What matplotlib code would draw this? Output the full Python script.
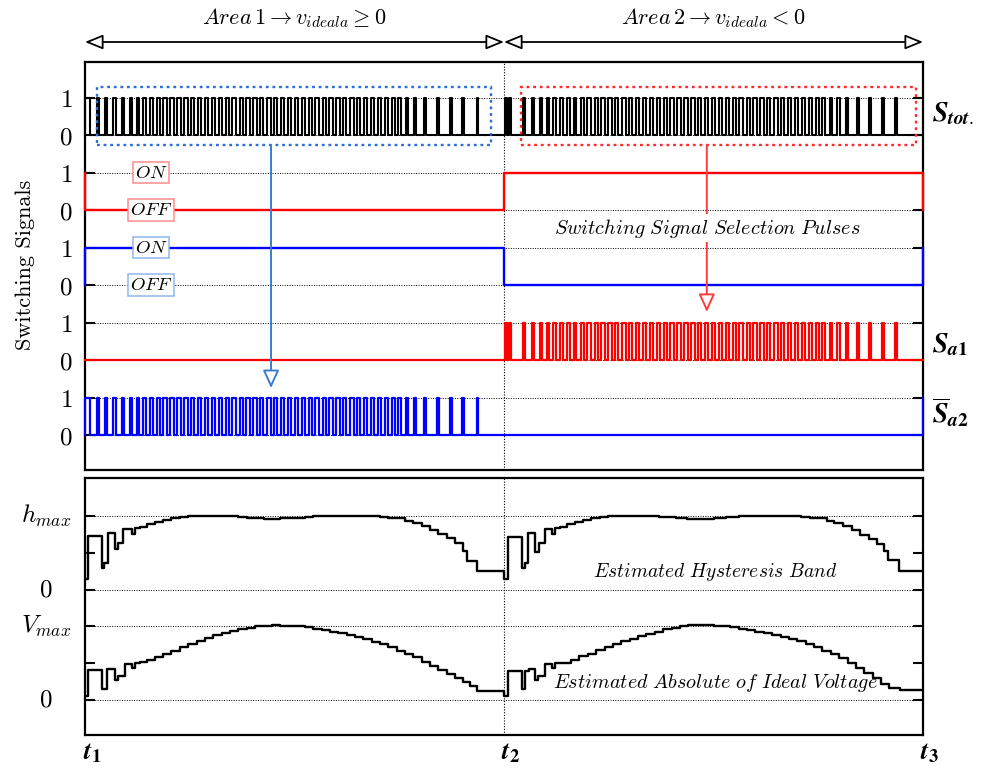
import numpy as np
import matplotlib
matplotlib.use("Agg")
import matplotlib.pyplot as plt
from matplotlib.patches import Rectangle

plt.rcParams["mathtext.fontset"] = "cm"
plt.rcParams["font.family"] = ["DejaVu Serif"]

# ---------------- data (time in ms, t1=0, t2=10, t3=20) ----------------
t_marks = [0.0, 10.0, 20.0]
t_names = [r"$\boldsymbol{t}_{\mathbf{1}}$", r"$\boldsymbol{t}_{\mathbf{2}}$", r"$\boldsymbol{t}_{\mathbf{3}}$"]

# switching pulses (start time inside area, width)
pulse_on_a1 = [0.00, 0.28, 0.48, 0.68, 0.88, 1.07, 1.23, 1.39, 1.55,
               1.71, 1.87, 2.04, 2.20, 2.37, 2.53, 2.70, 2.86, 3.03, 3.19,
               3.36, 3.52, 3.69, 3.85, 4.02, 4.18, 4.35, 4.51, 4.68, 4.84,
               5.01, 5.17, 5.34, 5.50, 5.67, 5.83, 6.00, 6.16, 6.33, 6.49,
               6.66, 6.82, 6.99, 7.15, 7.32, 7.48, 7.65,
               7.85, 8.10, 8.40, 8.70, 9.00, 9.35]
pulse_w_a1 = [0.12, 0.05, 0.05, 0.05, 0.05, 0.06, 0.06, 0.06, 0.07,
              0.07, 0.08, 0.08, 0.08, 0.08, 0.08, 0.08, 0.08, 0.08, 0.08,
              0.08, 0.08, 0.08, 0.08, 0.08, 0.08, 0.08, 0.08, 0.08, 0.08,
              0.08, 0.08, 0.08, 0.08, 0.08, 0.08, 0.08, 0.08, 0.08, 0.08,
              0.08, 0.07, 0.07, 0.07, 0.07, 0.06, 0.06,
              0.06, 0.05, 0.05, 0.05, 0.04, 0.04]
pulse_on_a2 = [0.02, 0.12, 0.45, 0.66, 0.86, 1.02, 1.18, 1.34, 1.50,
               1.66, 1.83, 1.99, 2.16, 2.32, 2.49, 2.65, 2.82, 2.98, 3.15,
               3.31, 3.48, 3.64, 3.81, 3.97, 4.14, 4.30, 4.47, 4.63, 4.80,
               4.96, 5.13, 5.29, 5.46, 5.62, 5.79, 5.95, 6.12, 6.28, 6.45,
               6.61, 6.78, 6.94, 7.11, 7.27, 7.44, 7.60, 7.77,
               7.95, 8.16, 8.43, 8.71, 9.03, 9.34]
pulse_w_a2 = [0.05, 0.05, 0.05, 0.05, 0.05, 0.06, 0.06, 0.06, 0.07,
              0.07, 0.08, 0.08, 0.08, 0.08, 0.08, 0.08, 0.08, 0.08, 0.08,
              0.08, 0.08, 0.08, 0.08, 0.08, 0.08, 0.08, 0.08, 0.08, 0.08,
              0.08, 0.08, 0.08, 0.08, 0.08, 0.08, 0.08, 0.08, 0.08, 0.08,
              0.08, 0.08, 0.07, 0.07, 0.07, 0.07, 0.06, 0.06,
              0.06, 0.05, 0.05, 0.05, 0.04, 0.04]

# selection pulses state in (area1, area2)
sel_red = [0, 1]
sel_blue = [1, 0]

# estimated hysteresis band (normalised to h_max)
h_t_a1 = [0.00, 0.07, 0.41, 0.45, 0.55, 0.72, 0.79, 0.91, 1.12, 1.19, 1.31, 1.48, 1.67,
          1.86, 2.05, 2.27, 2.46, 3.65, 3.87, 4.27, 4.65, 5.06, 5.25, 5.44, 7.04, 7.23,
          7.45, 7.64, 7.83, 8.04, 8.23, 8.42, 8.64, 8.83, 9.02, 9.12, 9.36]
h_v_a1 = [0.15, 0.73, 0.30, 0.36, 0.77, 0.55, 0.64, 0.82, 0.76, 0.84, 0.86, 0.89, 0.92,
          0.95, 0.97, 0.99, 1.00, 0.99, 0.97, 0.96, 0.97, 0.98, 0.99, 1.00, 0.99, 0.98,
          0.97, 0.94, 0.91, 0.87, 0.81, 0.76, 0.70, 0.63, 0.53, 0.39, 0.25]
h_t_a2 = [0.00, 0.10, 0.42, 0.50, 0.57, 0.74, 0.84, 0.98, 1.14, 1.21, 1.33, 1.50, 1.69,
          1.88, 2.07, 2.29, 2.48, 3.70, 4.10, 4.37, 5.00, 5.30, 5.60, 7.10, 7.30, 7.51,
          7.70, 7.88, 8.10, 8.30, 8.50, 8.71, 8.90, 9.07, 9.17, 9.43]
h_v_a2 = [0.15, 0.72, 0.30, 0.36, 0.77, 0.52, 0.64, 0.82, 0.76, 0.84, 0.86, 0.89, 0.92,
          0.95, 0.97, 0.99, 1.00, 0.99, 0.98, 0.96, 0.98, 0.99, 1.00, 0.99, 0.98, 0.97,
          0.94, 0.91, 0.87, 0.81, 0.75, 0.69, 0.62, 0.53, 0.40, 0.25]

# estimated absolute of ideal voltage (normalised to V_max)
v_t_a1 = [0.00, 0.07, 0.41, 0.53, 0.72, 0.79, 0.95, 1.12, 1.19, 1.31, 1.48, 1.67, 1.86,
          2.05, 2.27, 2.46, 2.67, 2.86, 3.05, 3.27, 3.46, 3.65, 3.87, 4.06, 4.27, 4.46,
          4.65, 4.87, 5.06, 5.25, 5.44, 5.66, 5.85, 6.04, 6.25, 6.44, 6.63, 6.85, 7.04,
          7.23, 7.45, 7.64, 7.83, 8.04, 8.23, 8.42, 8.64, 8.83, 9.02, 9.19, 9.36]
v_v_a1 = [0.05, 0.41, 0.15, 0.42, 0.27, 0.33, 0.49, 0.44, 0.50, 0.52, 0.55, 0.58, 0.63,
          0.67, 0.72, 0.76, 0.80, 0.84, 0.88, 0.91, 0.94, 0.96, 0.98, 1.00, 1.01, 1.02,
          1.01, 1.00, 1.00, 0.99, 0.97, 0.95, 0.93, 0.91, 0.89, 0.86, 0.83, 0.79, 0.76,
          0.72, 0.67, 0.63, 0.58, 0.52, 0.46, 0.41, 0.35, 0.30, 0.24, 0.19, 0.12]
v_t_a2 = [0.00, 0.10, 0.42, 0.50, 0.60, 0.74, 0.81, 0.98, 1.15, 1.22, 1.40, 1.60, 1.80,
          2.00, 2.20, 2.40, 2.60, 2.80, 3.00, 3.20, 3.40, 3.60, 3.80, 4.00, 4.20, 4.40,
          4.60, 4.80, 5.00, 5.20, 5.40, 5.60, 5.80, 6.00, 6.20, 6.40, 6.60, 6.80, 7.00,
          7.20, 7.40, 7.60, 7.80, 8.00, 8.20, 8.40, 8.60, 8.80, 9.00, 9.20, 9.45]
v_v_a2 = [0.05, 0.39, 0.15, 0.39, 0.42, 0.27, 0.33, 0.49, 0.44, 0.50, 0.51, 0.55, 0.60,
          0.63, 0.68, 0.72, 0.76, 0.80, 0.83, 0.87, 0.90, 0.93, 0.96, 0.98, 1.00, 1.02,
          1.02, 1.02, 1.01, 1.00, 0.99, 0.97, 0.95, 0.93, 0.91, 0.88, 0.86, 0.83, 0.80,
          0.76, 0.72, 0.67, 0.62, 0.57, 0.51, 0.44, 0.37, 0.30, 0.22, 0.17, 0.13]

# ---------------- helpers ----------------
def pulse_train(starts, widths, t0, t1):
    t, y = [t0], [0]
    for s, w in zip(starts, widths):
        t += [t0 + s, t0 + s, t0 + s + w, t0 + s + w]
        y += [0, 1, 1, 0]
    t.append(t1)
    y.append(0)
    return np.array(t), np.array(y, dtype=float)


def step_curve(times_a1, vals_a1, times_a2, vals_a2):
    t = list(times_a1) + [10.0 + x for x in times_a2] + [20.0]
    v = list(vals_a1) + list(vals_a2) + [vals_a2[-1]]
    return np.array(t), np.array(v)


dot = (0, (1, 1.5))
BLUE = "#0000ff"
RED = "#ff0000"

fig = plt.figure(figsize=(9.86, 7.75), dpi=100)
W, H = 986.0, 775.0
ax1 = fig.add_axes([85 / W, 1 - 470 / H, 838 / W, 408 / H])
ax2 = fig.add_axes([85 / W, 1 - 735 / H, 838 / W, 257 / H])

for ax in (ax1, ax2):
    ax.set_xlim(0, 20)
    for sp in ax.spines.values():
        sp.set_linewidth(1.6)
    ax.tick_params(axis="y", direction="in", length=7, width=1.5, left=True, right=True)
    ax.tick_params(axis="x", bottom=False, labelbottom=False)
    ax.axvline(10, color="k", lw=0.8, ls=dot, zorder=1)

# ---------------- top axes: switching signals ----------------
ax1.set_ylim(-0.933, 9.947)
levels = list(range(10))
ax1.set_yticks(levels)
ax1.set_yticklabels([r"$%d$" % (l % 2) for l in levels], fontsize=18)
ax1.tick_params(axis="y", pad=9)
for l in levels:
    ax1.axhline(l, color="k", lw=0.7, ls=dot, zorder=1)

# S_tot
ta, ya = pulse_train(pulse_on_a1, pulse_w_a1, 0.0, 10.0)
tb, yb = pulse_train(pulse_on_a2, pulse_w_a2, 10.0, 20.0)
ax1.plot(np.r_[ta, tb], np.r_[ya, yb] + 8, color="k", lw=1.5, zorder=3, clip_on=False)

# selection pulses (red: base 6, blue: base 4)
def sel_line(states, base):
    t = [0, 0, 10, 10, 20, 20]
    y = [1 - states[0], states[0], states[0], states[1], states[1], 1 - states[1]]
    return np.array(t), np.array(y, dtype=float) + base

t_r, y_r = sel_line(sel_red, 6)
ax1.plot(t_r, y_r, color=RED, lw=1.7, zorder=3, clip_on=False)
t_b, y_b = sel_line(sel_blue, 4)
ax1.plot(t_b, y_b, color=BLUE, lw=1.7, zorder=3, clip_on=False)

# S_a1 (red): zero in area 1, pulses in area 2
ax1.plot(np.r_[0, tb], np.r_[0, yb] + 2, color=RED, lw=1.6, zorder=3, clip_on=False)
# S_a2 (blue): pulses in area 1, zero in area 2
ax1.plot(np.r_[ta, 20, 20], np.r_[ya, 0, 1], color=BLUE, lw=1.6, zorder=3, clip_on=False)

# dotted selection rectangles and arrows
ax1.add_patch(Rectangle((0.29, 7.73), 9.40, 1.55, fill=False, ec="#2c6fd6",
                        lw=1.7, ls=(0, (1.2, 1.6)), zorder=4))
ax1.add_patch(Rectangle((10.41, 7.73), 9.42, 1.55, fill=False, ec="#ff2a2a",
                        lw=1.7, ls=(0, (1.2, 1.6)), zorder=4))
ax1.annotate("", xy=(4.44, 1.25), xytext=(4.44, 7.73),
             arrowprops=dict(arrowstyle="-|>,head_length=1.1,head_width=0.5",
                             ec="#3a7bd5", fc="white", lw=1.4, shrinkA=0, shrinkB=0),
             zorder=5)
ax1.annotate("", xy=(14.84, 3.28), xytext=(14.84, 7.73),
             arrowprops=dict(arrowstyle="-|>,head_length=1.1,head_width=0.5",
                             ec="#ff3b3b", fc="white", lw=1.4, shrinkA=0, shrinkB=0),
             zorder=5)
ax1.text(14.84, 5.52, r"$Switching\ Signal\ Selection\ Pulses$", fontsize=14.5,
         ha="center", va="center", zorder=6,
         bbox=dict(boxstyle="square,pad=0.1", fc="white", ec="none"))

# ON / OFF tags
for y, txt, ec in [(7, "ON", "#ff8c8c"), (6, "OFF", "#ff8c8c"),
                   (5, "ON", "#8bb8ee"), (4, "OFF", "#8bb8ee")]:
    ax1.text(1.58, y, r"$%s$" % txt, fontsize=13.5, ha="center", va="center", zorder=6,
             bbox=dict(boxstyle="square,pad=0.1", fc="white", ec=ec, lw=1.1))

# right-hand signal names
xr = ax1.get_yaxis_transform()
ax1.text(1.011, 8.35, r"$\boldsymbol{S}_{\boldsymbol{tot.}}$", transform=xr, fontsize=20,
         ha="left", va="baseline", math_fontfamily="stix")
ax1.text(1.011, 2.19, r"$\boldsymbol{S}_{\boldsymbol{a1}}$", transform=xr, fontsize=20,
         ha="left", va="baseline", math_fontfamily="stix")
ax1.text(1.011, 0.32, r"$\overline{\boldsymbol{S}}_{\boldsymbol{a2}}$", transform=xr,
         fontsize=20, ha="left", va="baseline", math_fontfamily="stix")

# top area arrows and captions
xt = ax1.get_xaxis_transform()
for a, b in [(0, 10), (10, 20)]:
    ax1.annotate("", xy=(a, 1.049), xytext=(b, 1.049), xycoords=xt, textcoords=xt,
                 arrowprops=dict(arrowstyle="<|-|>,head_length=1.1,head_width=0.45",
                                 ec="k", fc="white", lw=1.3, shrinkA=0, shrinkB=0),
                 annotation_clip=False)
ax1.text(5, 1.108, r"$Area\,1 \rightarrow v_{ideala} \geq 0$", transform=xt,
         fontsize=16, ha="center", va="center")
ax1.text(15, 1.108, r"$Area\,2 \rightarrow v_{ideala} < 0$", transform=xt,
         fontsize=16, ha="center", va="center")

fig.text(25 / W, 1 - 265 / H, "Switching Signals", rotation=90, fontsize=16,
         family="cmr10", ha="center", va="center")

# ---------------- bottom axes: estimated band and voltage ----------------
ax2.set_ylim(-0.476, 3.02)
ax2.set_yticks([0, 0.5, 1, 1.5, 2, 2.5])
ax2.set_yticklabels([])
for l in [0, 1, 1.5, 2.5]:
    ax2.axhline(l, color="k", lw=0.7, ls=dot, zorder=1)
xl = ax2.get_yaxis_transform()
for y, lab in [(2.5, r"$h_{max}$"), (1.5, r"$0$"), (1.0, r"$V_{max}$"), (0.0, r"$0$")]:
    ax2.text(-39 / 838, y, lab, transform=xl, fontsize=18, ha="center", va="center")

th, vh = step_curve(h_t_a1, h_v_a1, h_t_a2, h_v_a2)
ax2.plot(th, vh + 1.5, drawstyle="steps-post", color="k", lw=1.7, zorder=3)
tv, vv = step_curve(v_t_a1, v_v_a1, v_t_a2, v_v_a2)
ax2.plot(tv, vv, drawstyle="steps-post", color="k", lw=1.7, zorder=3)

ax2.text(15.04, 1.74, r"$Estimated\ Hysteresis\ Band$", fontsize=14,
         ha="center", va="center", zorder=4)
ax2.text(15.06, 0.23, r"$Estimated\ Absolute\ of\ Ideal\ Voltage$", fontsize=14.5,
         ha="center", va="center", zorder=4)

# time marks below
for tm, nm in zip(t_marks, t_names):
    ax2.text(tm + 0.16, -0.72, nm, fontsize=19, ha="center", va="center",
             math_fontfamily="stix")

fig.savefig("out.png", dpi=100)
